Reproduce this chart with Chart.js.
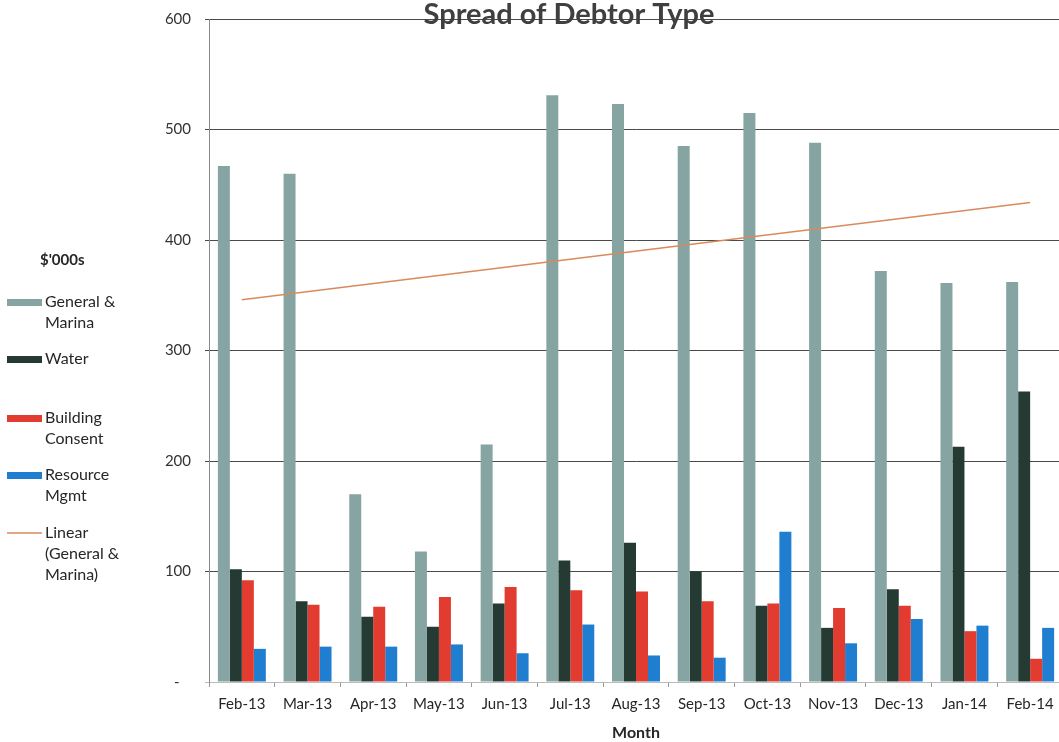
<!DOCTYPE html>
<html>
<head>
<meta charset="utf-8">
<title>Spread of Debtor Type</title>
<script src="https://cdn.jsdelivr.net/npm/chart.js@4.4.0/dist/chart.umd.min.js"></script>
<style>
    html, body { margin: 0; padding: 0; background: #fff; overflow: hidden; }
    canvas { display: block; }
</style>
</head>
<body>
<canvas id="debtorChart" width="1064" height="742"></canvas>
<script>
// Values in $'000s
const months = ['Feb-13', 'Mar-13', 'Apr-13', 'May-13', 'Jun-13', 'Jul-13', 'Aug-13',
                'Sep-13', 'Oct-13', 'Nov-13', 'Dec-13', 'Jan-14', 'Feb-14'];
const generalMarina   = [467, 460, 170, 118, 215, 531, 523, 485, 515, 488, 372, 361, 362];
const water           = [102, 73, 59, 50, 71, 110, 126, 100, 69, 49, 84, 213, 263];
const buildingConsent = [92, 70, 68, 77, 86, 83, 82, 73, 71, 67, 69, 46, 21];
const resourceMgmt    = [30, 32, 32, 34, 26, 52, 24, 22, 136, 35, 57, 51, 49];
// trend line: only its two ends are read, the library joins them
const linearGeneral   = [346, null, null, null, null, null, null, null, null, null, null, null, 434];
const yTickValues     = [0, 100, 200, 300, 400, 500, 600];

const colGeneral = '#86a4a2';
const colWater = '#243a33';
const colBuilding = '#e23b2f';
const colResource = '#1f7ecf';
const colTrend = '#d98a5c';

const fontFamily = 'Lato, "Open Sans", sans-serif';

// legend entries drawn at the left, like the original
const legendEntries = [
    { lines: ['General &', 'Marina'], color: colGeneral, kind: 'box', y: 302 },
    { lines: ['Water'], color: colWater, kind: 'box', y: 359 },
    { lines: ['Building', 'Consent'], color: colBuilding, kind: 'box', y: 418 },
    { lines: ['Resource', 'Mgmt'], color: colResource, kind: 'box', y: 475 },
    { lines: ['Linear', '(General &', 'Marina)'], color: colTrend, kind: 'line', y: 533 }
];

const sidePlugin = {
    id: 'sideLegendAndTitle',
    afterDraw(chart) {
        const ctx = chart.ctx;
        ctx.save();
        // title
        ctx.fillStyle = '#3f3f3f';
        ctx.font = 'bold 29px ' + fontFamily;
        ctx.textAlign = 'center';
        ctx.textBaseline = 'alphabetic';
        ctx.fillText('Spread of Debtor Type', 569, 24);

        // legend header
        ctx.fillStyle = '#262626';
        ctx.font = 'bold 15px ' + fontFamily;
        ctx.textAlign = 'left';
        ctx.textBaseline = 'middle';
        ctx.fillText("$'000s", 40, 260);

        ctx.font = '16px ' + fontFamily;
        legendEntries.forEach(entry => {
            if (entry.kind === 'box') {
                ctx.fillStyle = entry.color;
                ctx.fillRect(7, entry.y - 3, 35, 7);
            } else {
                ctx.strokeStyle = entry.color;
                ctx.lineWidth = 1.5;
                ctx.beginPath();
                ctx.moveTo(7, entry.y);
                ctx.lineTo(42, entry.y);
                ctx.stroke();
            }
            ctx.fillStyle = '#262626';
            entry.lines.forEach((line, i) => {
                ctx.fillText(line, 45, entry.y + i * 21);
            });
        });
        ctx.restore();
    }
};

const ctx = document.getElementById('debtorChart').getContext('2d');
const debtorChart = new Chart(ctx, {
    type: 'bar',
    data: {
        labels: months,
        datasets: [
            { label: 'General & Marina', data: generalMarina, backgroundColor: colGeneral, order: 1 },
            { label: 'Water', data: water, backgroundColor: colWater, order: 1 },
            { label: 'Building Consent', data: buildingConsent, backgroundColor: colBuilding, order: 1 },
            { label: 'Resource Mgmt', data: resourceMgmt, backgroundColor: colResource, order: 1 },
            {
                type: 'line',
                label: 'Linear (General & Marina)',
                data: linearGeneral,
                borderColor: colTrend,
                borderWidth: 1.5,
                pointRadius: 0,
                spanGaps: true,
                fill: false,
                order: 0
            }
        ]
    },
    options: {
        responsive: false,
        animation: false,
        devicePixelRatio: 1,
        categoryPercentage: 0.73,
        barPercentage: 1.0,
        layout: { padding: { top: 19, right: 1, left: 0, bottom: 0 } },
        plugins: {
            legend: { display: false },
            title: { display: false },
            tooltip: { enabled: false }
        },
        scales: {
            x: {
                afterFit: scale => {
                    scale.height = 60;
                    scale.paddingLeft = 0;
                    scale.paddingRight = 0;
                },
                grid: {
                    offset: true,
                    drawOnChartArea: false,
                    drawTicks: true,
                    tickLength: 5,
                    color: '#999'
                },
                border: { color: '#bbb' },
                ticks: {
                    color: '#262626',
                    font: { family: fontFamily, size: 15 },
                    padding: 8,
                    maxRotation: 0,
                    autoSkip: false
                },
                title: {
                    display: true,
                    text: 'Month',
                    color: '#262626',
                    font: { family: fontFamily, size: 16, weight: 'bold' },
                    padding: { top: 6, bottom: 0 }
                }
            },
            y: {
                min: 0,
                max: 600,
                afterFit: scale => {
                    scale.width = 209;
                    scale.paddingTop = 0;
                    scale.paddingBottom = 0;
                },
                afterBuildTicks: scale => { scale.ticks = yTickValues.map(v => ({ value: v })); },
                grid: {
                    color: c => (c.tick && c.tick.value === 0) ? '#bbb' : '#4a4a4a',
                    lineWidth: 1,
                    tickLength: 4
                },
                border: { color: '#8a8a8a' },
                ticks: {
                    color: '#333',
                    font: { family: fontFamily, size: 15 },
                    padding: 14,
                    callback: value => value === 0 ? '-   ' : value
                }
            }
        }
    },
    plugins: [sidePlugin]
});
</script>
</body>
</html>
